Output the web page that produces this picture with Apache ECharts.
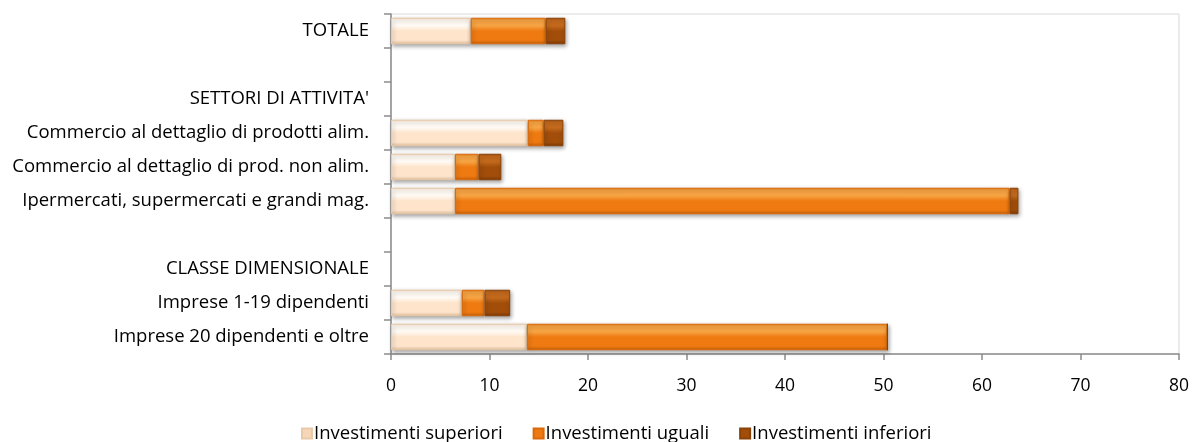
<!DOCTYPE html>
<html>
<head>
<meta charset="utf-8">
<script src="https://cdn.jsdelivr.net/npm/echarts@6/dist/echarts.min.js"></script>
<style>
  html, body { margin: 0; padding: 0; background: #ffffff; }
  #chart { width: 1192px; height: 442px; }
</style>
</head>
<body>
<div id="chart"></div>
<script>
// Category rows, top to bottom (empty strings are spacer rows)
const categories = [
  'TOTALE',
  '',
  "SETTORI DI ATTIVITA'",
  'Commercio al dettaglio di prodotti alim.',
  'Commercio al dettaglio di prod. non alim.',
  'Ipermercati, supermercati e grandi mag.',
  '',
  'CLASSE DIMENSIONALE',
  'Imprese 1-19 dipendenti',
  'Imprese 20 dipendenti e oltre'
];

const seriesNames = ['Investimenti superiori', 'Investimenti uguali', 'Investimenti inferiori'];

// Percent values per row (null = no bar)
const superiori = [8.1, null, null, 13.9, 6.5, 6.5, null, null, 7.2, 13.8];
const uguali    = [7.6, null, null, 1.6, 2.4, 56.3, null, null, 2.3, 36.6];
const inferiori = [2.0, null, null, 2.0, 2.3, 0.9, null, null, 2.6, 0.0];

const xTicks = { min: 0, max: 80, interval: 10 };

const FONT = '"Open Sans", sans-serif';
const FONT_SIZE = 18.5;

// Bevelled look: light band near the top, darker rim at the bottom
function bevel(top, mid, bottom) {
  return new echarts.graphic.LinearGradient(0, 0, 0, 1, [
    { offset: 0, color: mid },
    { offset: 0.1, color: top },
    { offset: 0.3, color: top },
    { offset: 0.5, color: mid },
    { offset: 0.85, color: mid },
    { offset: 1, color: bottom }
  ]);
}

const styles = [
  { fill: bevel('#fffaf3', '#fde4cb', '#e2bf9c'), border: '#e8c9a8', legend: '#f6d6b6' },
  { fill: bevel('#f7a443', '#ef7a12', '#c85f08'), border: '#d96a0c', legend: '#ef7a12' },
  { fill: bevel('#c46a1d', '#a24e0a', '#7c3a06'), border: '#8a4207', legend: '#a24e0a' }
];

const dataSets = [superiori, uguali, inferiori];

const series = dataSets.map((d, i) => ({
  name: seriesNames[i],
  type: 'bar',
  stack: 'tot',
  barWidth: '78%',
  data: d,
  itemStyle: {
    color: styles[i].fill,
    borderColor: styles[i].border,
    borderWidth: 1,
    shadowColor: 'rgba(0,0,0,0.35)',
    shadowBlur: 4,
    shadowOffsetY: 2,
    shadowOffsetX: 1
  }
}));

const chart = echarts.init(document.getElementById('chart'), null, { renderer: 'canvas' });
chart.setOption({
  animation: false,
  backgroundColor: '#ffffff',
  grid: {
    left: 391, right: 13, top: 14, bottom: 88,
    show: true, borderColor: '#d9d9d9', borderWidth: 1
  },
  legend: {
    top: 419,
    left: 296,
    itemWidth: 10,
    itemHeight: 10,
    itemGap: 30,
    icon: 'rect',
    textStyle: { fontFamily: FONT, fontSize: FONT_SIZE, color: '#000', padding: [0, 0, 0, -3] },
    data: seriesNames.map((n, i) => ({ name: n, itemStyle: { color: styles[i].legend } }))
  },
  xAxis: {
    type: 'value',
    min: xTicks.min, max: xTicks.max, interval: xTicks.interval,
    axisLine: { show: true, lineStyle: { color: '#8c8c8c', width: 1.5 } },
    axisTick: { show: true, length: 6, lineStyle: { color: '#8c8c8c', width: 1.5 } },
    splitLine: { show: false },
    axisLabel: { fontFamily: FONT, fontSize: 17.5, color: '#000', margin: 23 }
  },
  yAxis: {
    type: 'category',
    inverse: true,
    data: categories,
    axisLine: { show: true, lineStyle: { color: '#8c8c8c', width: 1.5 } },
    axisTick: { show: true, length: 7, lineStyle: { color: '#8c8c8c', width: 1.5 } },
    axisLabel: { fontFamily: FONT, fontSize: FONT_SIZE, color: '#000', margin: 22 }
  },
  series: series
});
</script>
</body>
</html>
